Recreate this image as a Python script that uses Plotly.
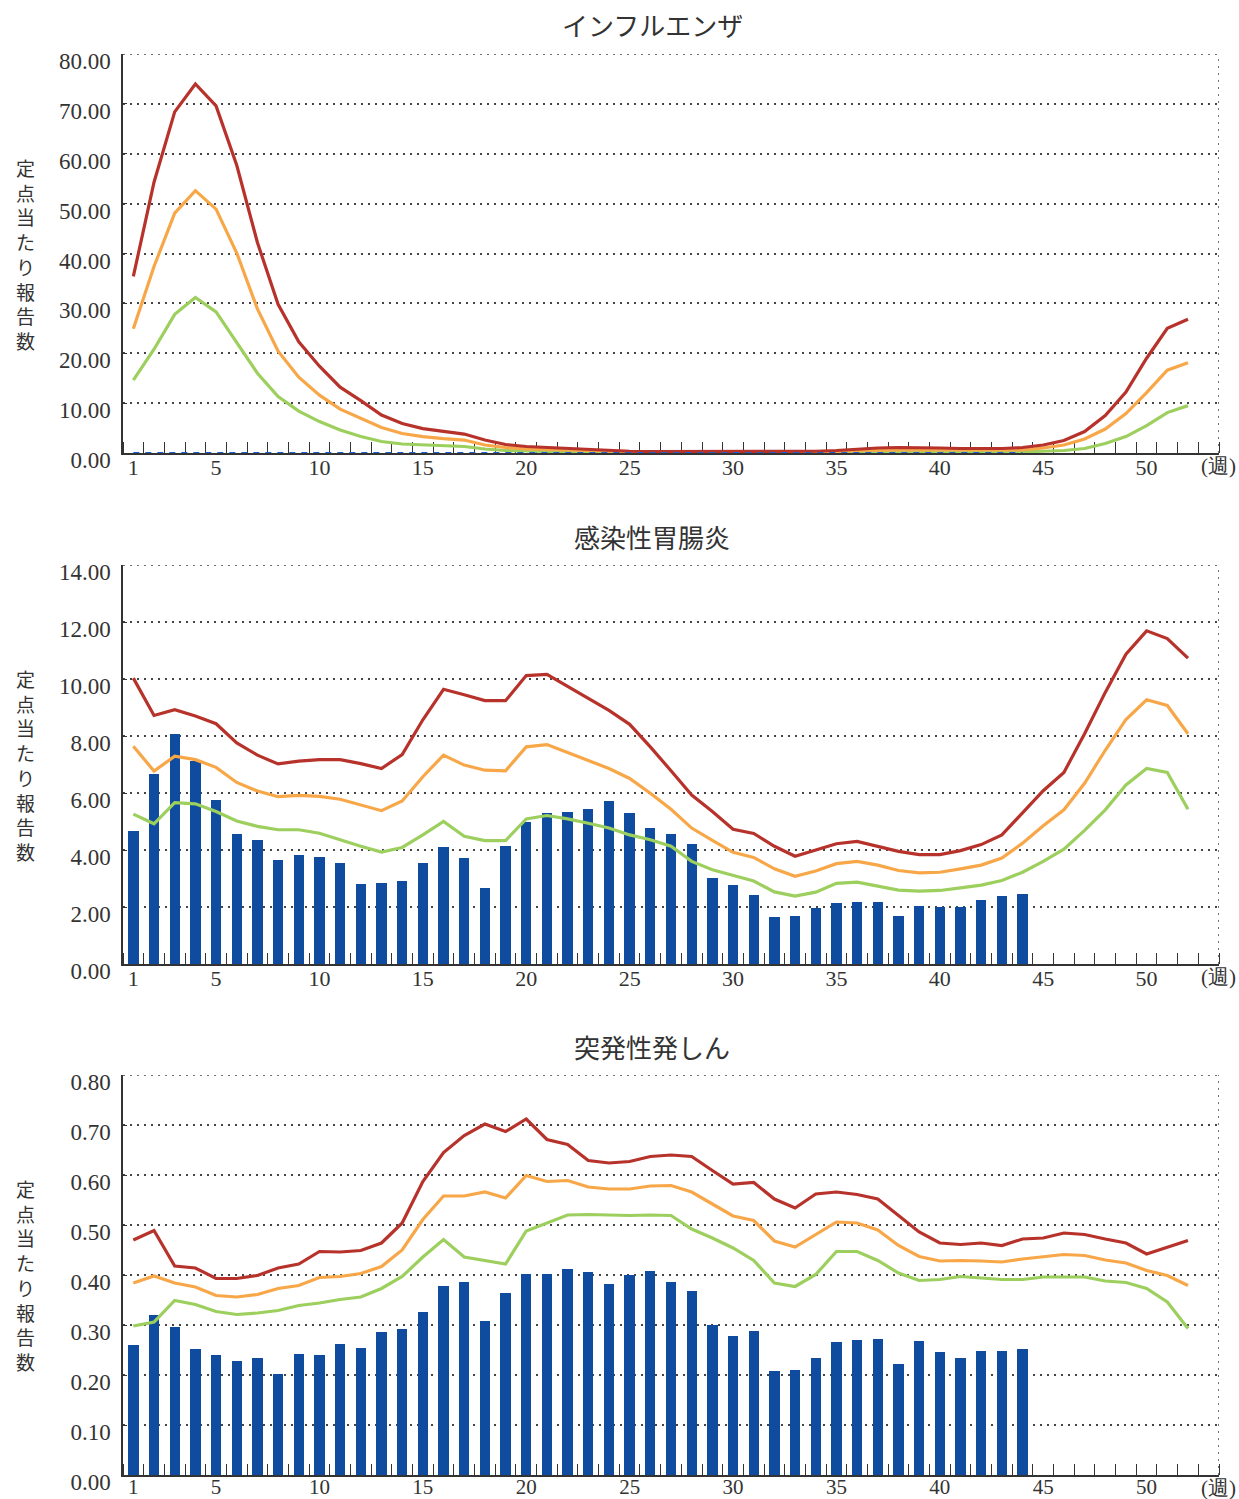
import plotly.graph_objects as go
from plotly.subplots import make_subplots

weeks = list(range(1, 53))
bar_weeks = list(range(1, 45))

panel_titles = ["インフルエンザ", "感染性胃腸炎", "突発性発しん"]
y_title = "定点当たり報告数"
x_unit = "(週)"
x_label_vals = [1, 5, 10, 15, 20, 25, 30, 35, 40, 45, 50]

# インフルエンザ
flu_high = [35.4, 54.3, 68.4, 74.0, 69.6, 57.7, 42.2, 29.8, 22.3, 17.4,
            13.2, 10.5, 7.6, 5.9, 4.9, 4.3, 3.8, 2.6, 1.7, 1.3,
            1.1, 0.8, 0.6, 0.45, 0.35, 0.3, 0.3, 0.3, 0.3, 0.3,
            0.3, 0.3, 0.3, 0.35, 0.5, 0.8, 1.0, 1.1, 1.1, 1.0,
            0.9, 0.9, 0.9, 1.1, 1.6, 2.5, 4.3, 7.5, 12.2, 19.0,
            25.0, 26.8]
flu_mid = [24.9, 37.4, 48.1, 52.6, 48.9, 40.1, 28.9, 20.4, 15.2, 11.6,
           8.8, 6.9, 5.1, 3.9, 3.3, 2.9, 2.6, 1.6, 1.1, 0.8,
           0.7, 0.5, 0.4, 0.3, 0.2, 0.2, 0.2, 0.2, 0.2, 0.2,
           0.2, 0.2, 0.2, 0.2, 0.3, 0.5, 0.6, 0.6, 0.6, 0.6,
           0.5, 0.5, 0.5, 0.6, 1.0, 1.6, 2.8, 4.8, 7.9, 12.1,
           16.6, 18.1]
flu_low = [14.6, 20.8, 27.8, 31.2, 28.3, 22.1, 16.0, 11.3, 8.4, 6.3,
           4.6, 3.3, 2.3, 1.8, 1.6, 1.5, 1.3, 0.8, 0.5, 0.4,
           0.3, 0.2, 0.15, 0.1, 0.1, 0.1, 0.1, 0.1, 0.1, 0.1,
           0.1, 0.1, 0.1, 0.1, 0.15, 0.2, 0.25, 0.25, 0.25, 0.25,
           0.2, 0.2, 0.2, 0.25, 0.35, 0.5, 0.9, 1.9, 3.3, 5.5,
           8.1, 9.5]
flu_now = [0.0, 0.0, 0.0, 0.0, 0.0, 0.0, 0.0, 0.0, 0.0, 0.0,
           0.0, 0.0, 0.0, 0.0, 0.0, 0.0, 0.0, 0.0, 0.0, 0.0,
           0.0, 0.0, 0.0, 0.0, 0.0, 0.0, 0.0, 0.0, 0.0, 0.0,
           0.0, 0.0, 0.0, 0.0, 0.0, 0.0, 0.0, 0.0, 0.0, 0.0,
           0.0, 0.0, 0.0, 0.0]

# 感染性胃腸炎
gas_high = [10.03, 8.72, 8.92, 8.70, 8.43, 7.76, 7.33, 7.02, 7.12, 7.17,
            7.17, 7.03, 6.86, 7.35, 8.57, 9.64, 9.45, 9.24, 9.24, 10.12,
            10.16, 9.74, 9.34, 8.90, 8.41, 7.62, 6.78, 5.93, 5.35, 4.73,
            4.58, 4.13, 3.78, 4.01, 4.22, 4.30, 4.13, 3.95, 3.84, 3.84,
            3.98, 4.19, 4.53, 5.29, 6.08, 6.72, 8.08, 9.53, 10.87, 11.69,
            11.42, 10.73]
gas_mid = [7.64, 6.77, 7.29, 7.17, 6.90, 6.37, 6.07, 5.87, 5.92, 5.88,
           5.78, 5.58, 5.38, 5.72, 6.57, 7.33, 6.98, 6.80, 6.78, 7.62,
           7.70, 7.42, 7.15, 6.86, 6.51, 5.99, 5.43, 4.77, 4.34, 3.92,
           3.74, 3.34, 3.08, 3.26, 3.52, 3.60, 3.47, 3.28, 3.20, 3.22,
           3.34, 3.47, 3.72, 4.24, 4.85, 5.41, 6.34, 7.50, 8.58, 9.27,
           9.07, 8.08]
gas_low = [5.26, 4.92, 5.66, 5.62, 5.35, 5.02, 4.83, 4.71, 4.71, 4.59,
           4.36, 4.13, 3.93, 4.09, 4.53, 5.00, 4.48, 4.33, 4.33, 5.09,
           5.21, 5.09, 4.94, 4.77, 4.53, 4.36, 4.13, 3.60, 3.31, 3.10,
           2.91, 2.53, 2.38, 2.52, 2.83, 2.87, 2.73, 2.59, 2.56, 2.58,
           2.67, 2.77, 2.93, 3.22, 3.60, 4.03, 4.69, 5.41, 6.28, 6.86,
           6.72, 5.43]
gas_now = [4.67, 6.66, 8.06, 7.13, 5.76, 4.57, 4.36, 3.66, 3.84, 3.77,
           3.56, 2.79, 2.83, 2.93, 3.56, 4.12, 3.73, 2.65, 4.15, 4.97,
           5.30, 5.34, 5.44, 5.72, 5.29, 4.78, 4.57, 4.22, 3.03, 2.76,
           2.41, 1.64, 1.67, 1.95, 2.13, 2.16, 2.16, 1.67, 2.02, 1.99,
           1.99, 2.23, 2.37, 2.44]

# 突発性発しん
ex_high = [0.470, 0.489, 0.418, 0.414, 0.393, 0.393, 0.399, 0.414, 0.422, 0.447,
           0.446, 0.449, 0.464, 0.504, 0.587, 0.645, 0.679, 0.702, 0.687, 0.712,
           0.671, 0.661, 0.629, 0.624, 0.627, 0.637, 0.640, 0.637, 0.609, 0.582,
           0.585, 0.552, 0.534, 0.562, 0.566, 0.561, 0.552, 0.518, 0.486, 0.464,
           0.461, 0.464, 0.459, 0.472, 0.474, 0.484, 0.481, 0.472, 0.464, 0.442,
           0.456, 0.469]
ex_mid = [0.384, 0.398, 0.384, 0.376, 0.359, 0.356, 0.361, 0.373, 0.379, 0.395,
          0.397, 0.403, 0.417, 0.450, 0.511, 0.558, 0.558, 0.566, 0.554, 0.599,
          0.587, 0.589, 0.576, 0.572, 0.572, 0.578, 0.579, 0.566, 0.542, 0.518,
          0.509, 0.468, 0.456, 0.481, 0.506, 0.504, 0.490, 0.459, 0.437, 0.428,
          0.429, 0.428, 0.426, 0.432, 0.436, 0.441, 0.439, 0.430, 0.424, 0.409,
          0.399, 0.379]
ex_low = [0.298, 0.306, 0.349, 0.341, 0.327, 0.321, 0.324, 0.329, 0.339, 0.344,
          0.351, 0.356, 0.373, 0.397, 0.436, 0.471, 0.436, 0.429, 0.422, 0.488,
          0.504, 0.520, 0.521, 0.520, 0.519, 0.520, 0.519, 0.492, 0.474, 0.454,
          0.429, 0.384, 0.377, 0.401, 0.447, 0.447, 0.429, 0.404, 0.389, 0.391,
          0.397, 0.394, 0.391, 0.391, 0.396, 0.396, 0.396, 0.388, 0.385, 0.373,
          0.346, 0.293]
ex_now = [0.261, 0.321, 0.297, 0.253, 0.240, 0.228, 0.235, 0.202, 0.242, 0.240,
          0.263, 0.255, 0.287, 0.293, 0.327, 0.379, 0.387, 0.309, 0.365, 0.403,
          0.403, 0.413, 0.407, 0.383, 0.401, 0.409, 0.387, 0.369, 0.301, 0.279,
          0.289, 0.208, 0.210, 0.234, 0.267, 0.271, 0.273, 0.222, 0.269, 0.246,
          0.234, 0.248, 0.248, 0.253]

y_max = [80, 14, 0.8]
y_step = [10, 2, 0.1]

RED = "#B7322A"
ORANGE = "#F8A748"
GREEN = "#9DCF5E"
BLUE = "#0F4C9F"
TXT = "#333333"
GRID = "#444444"
SERIF = "Liberation Serif, DejaVu Serif, serif"
SANS = "Noto Sans CJK JP, Noto Sans, sans-serif"
DOTS = "2px,5px"

# body margin is removed by a small post script so the figure fills the window
FW, FH = 1239, 1499


def fx(p):
    return p / FW


def fy(p):
    return 1 - p / FH


panel_px = [(54, 453), (565, 964), (1075, 1475)]
x_px = (123, 1219)
x_font_size = [22, 22, 21]
x_label_lift = [-6, -6, -8]

fig = make_subplots(rows=3, cols=1)

panels = [
    (flu_high, flu_mid, flu_low, flu_now, "line"),
    (gas_high, gas_mid, gas_low, gas_now, "bar"),
    (ex_high, ex_mid, ex_low, ex_now, "bar"),
]

for i, (hi, mid, lo, now, kind) in enumerate(panels):
    r = i + 1
    if kind == "bar":
        fig.add_trace(go.Bar(x=bar_weeks, y=now, width=0.5, marker_color=BLUE,
                             marker_line_width=0, showlegend=False), row=r, col=1)
    for series, col in ((lo, GREEN), (mid, ORANGE), (hi, RED)):
        fig.add_trace(go.Scatter(x=weeks, y=series, mode="lines",
                                 line=dict(color=col, width=3.2),
                                 showlegend=False, cliponaxis=False), row=r, col=1)
    if kind == "line":
        fig.add_trace(go.Scatter(x=bar_weeks, y=now, mode="lines",
                                 line=dict(color="#1E5FD0", width=2.2, dash="6px,6px"),
                                 showlegend=False, cliponaxis=False), row=r, col=1)

    top, bot = panel_px[i]
    sfx = "" if i == 0 else str(r)
    fig.layout["xaxis" + sfx].update(
        domain=[fx(x_px[0]), fx(x_px[1])],
        range=[0.5, 53.5],
        automargin=False,
        tickmode="array",
        tickvals=x_label_vals,
        ticktext=[str(v) for v in x_label_vals],
        ticks="",
        showline=True, linecolor=TXT, linewidth=1.5,
        showgrid=False, zeroline=False,
        layer="below traces",
        tickfont=dict(family=SERIF, size=x_font_size[i], color=TXT),
        ticklabelstandoff=x_label_lift[i],
        minor=dict(tickmode="linear", tick0=0.5, dtick=1, ticks="inside",
                   ticklen=11, tickcolor=TXT, tickwidth=1.2, showgrid=False),
    )
    fig.layout["yaxis" + sfx].update(
        domain=[fy(bot), fy(top)],
        range=[0, y_max[i]],
        automargin=False,
        dtick=y_step[i], tick0=0,
        tickformat=".2f",
        showline=True, linecolor=TXT, linewidth=1.5,
        showgrid=True, gridcolor=GRID, griddash=DOTS, gridwidth=1.5,
        zeroline=False,
        layer="below traces",
        ticks="inside", ticklen=4, tickcolor=TXT,
        tickfont=dict(family=SERIF, size=23, color=TXT),
        ticklabelshift=7,
        ticklabelstandoff=6,
    )
    # top and right dotted borders
    fig.add_shape(type="line", xref="x" + sfx, yref="y" + sfx,
                  x0=0.5, x1=53.5, y0=y_max[i], y1=y_max[i],
                  line=dict(color=GRID, width=1.5, dash=DOTS))
    fig.add_shape(type="line", xref="x" + sfx, yref="y" + sfx,
                  x0=53.5, x1=53.5, y0=0, y1=y_max[i],
                  line=dict(color=GRID, width=1.5, dash=DOTS))
    # week unit label at the right end of the x axis
    fig.add_annotation(text=x_unit, xref="paper", yref="paper",
                       x=fx(1238), y=fy(bot + 13), showarrow=False,
                       font=dict(family=SERIF, size=21, color=TXT),
                       xanchor="right", yanchor="middle")
    # panel title
    fig.add_annotation(text=panel_titles[i], xref="paper", yref="paper",
                       x=fx(652), y=fy(top - 29), showarrow=False,
                       font=dict(family=SANS, size=26, color=TXT),
                       xanchor="center", yanchor="middle")
    # vertical y-axis title (stacked upright characters)
    fig.add_annotation(text="<br>".join(y_title), xref="paper", yref="paper",
                       x=fx(25), y=fy((top + bot) / 2), showarrow=False,
                       font=dict(family=SANS, size=19, color=TXT),
                       xanchor="center", yanchor="middle", align="center")

fig.update_layout(width=FW, height=FH,
                  margin=dict(l=0, r=0, t=0, b=0, autoexpand=False),
                  plot_bgcolor="white", paper_bgcolor="white",
                  bargap=0, showlegend=False)

fig.write_html("out.html",
               config={"displayModeBar": False},
               post_script="document.body.style.margin='0px';"
                           "document.body.style.overflow='hidden';")
